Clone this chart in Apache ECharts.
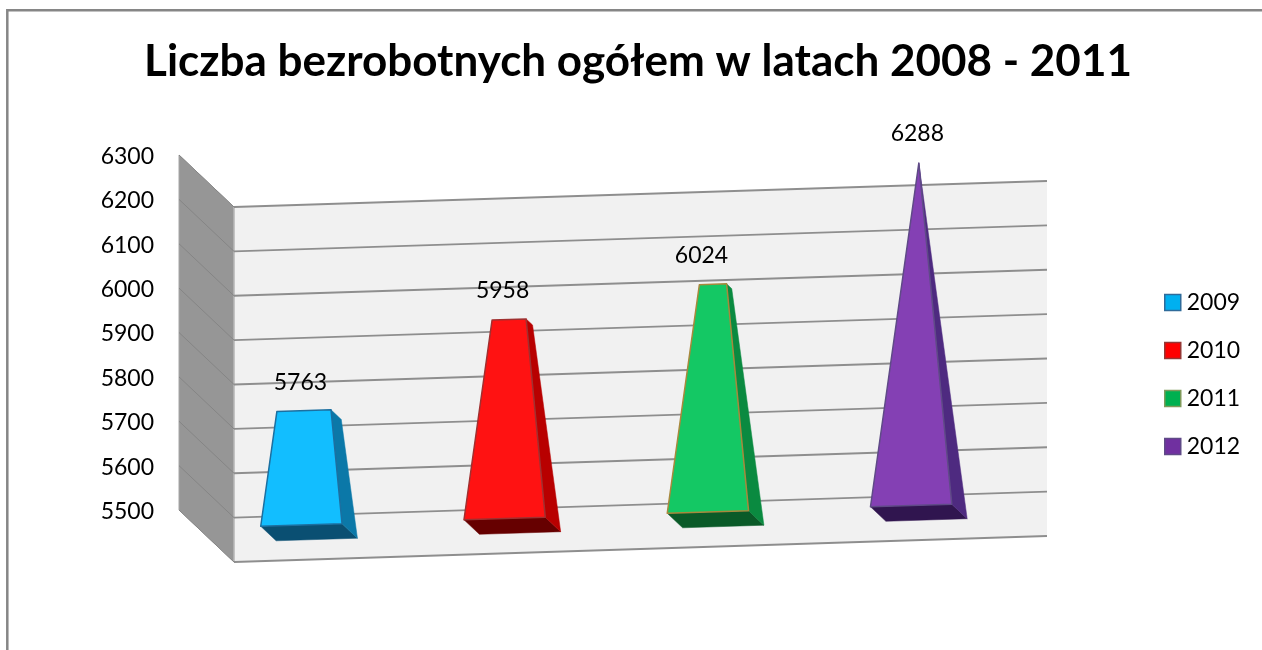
<!DOCTYPE html>
<html>
<head>
<meta charset="utf-8">
<style>
  html, body { margin: 0; padding: 0; background: #fff; }
  #chart { width: 1262px; height: 650px; }
</style>
</head>
<body>
<div id="chart"></div>
<script src="https://cdn.jsdelivr.net/npm/echarts@6/dist/echarts.min.js"></script>
<script>
// dane
const years = ['2009', '2010', '2011', '2012']
const unemployed = [5763, 5958, 6024, 6288]
const tickValues = [5500, 5600, 5700, 5800, 5900, 6000, 6100, 6200, 6300]

// kolory: czolo, bok, podstawa, obrys
const faceColors = ['#12BEFF', '#FF1212', '#14C864', '#8440B4']
const sideColors = ['#0B78A8', '#B80000', '#0A8A40', '#4E2A80']
const baseColors = ['#0A4F72', '#660000', '#0A5A28', '#30154F']
const edgeColors = ['#1C6FA0', '#A03030', '#A8883C', '#5F4A87']
const legendColors = ['#00B0F0', '#FF0000', '#00B050', '#7030A0']
const legendEdges = ['#2F6B9A', '#953735', '#7F9A5B', '#5F4A87']

// rzut "3D": przesuniecie w glab i pochylenie osi X
const DEPTH_X = 55
const DEPTH_Y = 52
const TILT = 26 / 813
const BAR_HALF_W = 0.2
const BAR_T_MID = 0.49
const BAR_T_HALF = 0.14
const BAR_DX = 1.5
const LABEL_DX = [-3.5, -6.5, -11.5, -1.5]
const LABEL_DY = 29

const yMin = tickValues[0]
const yMax = tickValues[tickValues.length - 1]
const peak = Math.max(...unemployed)

const project = (api, params, cat, value, du, t) => {
  const base = api.coord([cat, yMin])
  const top = api.coord([cat, value])
  const x0 = base[0] + du * api.size([1, 0])[0]
  return [
    x0 + DEPTH_X * t + BAR_DX,
    top[1] - (x0 - params.coordSys.x) * TILT + DEPTH_Y * t
  ]
}

const renderBar = (idx) => (params, api) => {
  const value = api.value(1)
  const cat = api.value(0)
  const k = (peak - value) / (peak - yMin)
  const p = (v, du, t) => project(api, params, cat, v, du, t)
  const w = BAR_HALF_W
  const tf = BAR_T_MID - BAR_T_HALF
  const tb = BAR_T_MID + BAR_T_HALF
  const tf2 = BAR_T_MID - BAR_T_HALF * k
  const tb2 = BAR_T_MID + BAR_T_HALF * k
  const bl = p(yMin, -w, tf), br = p(yMin, w, tf)
  const bbl = p(yMin, -w, tb), bbr = p(yMin, w, tb)
  const tl = p(value, -w * k, tf2), tr = p(value, w * k, tf2)
  const tbr = p(value, w * k, tb2)
  const apex = p(value, 0, BAR_T_MID)
  const poly = (points, fill, z2) => ({
    type: 'polygon',
    z2,
    shape: { points },
    style: { fill, stroke: fill, lineWidth: 0.5 }
  })
  return {
    type: 'group',
    children: [
      poly([bl, br, bbr, bbl], baseColors[idx], 1),
      poly([br, bbr, tbr, tr], sideColors[idx], 2),
      {
        type: 'polygon',
        z2: 3,
        shape: { points: [bl, br, tr, tl] },
        style: { fill: faceColors[idx], stroke: edgeColors[idx], lineWidth: 1.5, lineJoin: 'round' }
      },
      {
        type: 'text',
        z2: 4,
        style: {
          x: (tl[0] + tr[0]) / 2 + LABEL_DX[idx],
          y: Math.min(tl[1], apex[1]) - LABEL_DY,
          text: String(value),
          fill: '#000',
          font: '23px Lato',
          align: 'center',
          verticalAlign: 'middle'
        }
      }
    ]
  }
}

// sciany wykresu i linie siatki
const renderWalls = (params, api) => {
  const cs = params.coordSys
  const y = api.coord([0, api.value(1)])[1]
  const backX = cs.x + DEPTH_X
  const backY = y + DEPTH_Y
  const children = []
  if (params.dataIndex === 0) {
    const top = api.coord([0, yMax])[1]
    children.push({
      type: 'polygon',
      z2: 0,
      shape: { points: [[cs.x, top], [backX, top + DEPTH_Y], [backX, backY], [cs.x, y]] },
      style: { fill: '#969696', stroke: '#A6A6A6', lineWidth: 1 }
    })
    children.push({
      type: 'polygon',
      z2: 0,
      shape: {
        points: [
          [backX, top + DEPTH_Y],
          [backX + cs.width, top + DEPTH_Y - cs.width * TILT],
          [backX + cs.width, backY - cs.width * TILT],
          [backX, backY]
        ]
      },
      style: { fill: '#F1F1F1' }
    })
    children.push({
      type: 'line',
      z2: 1,
      shape: { x1: backX, y1: top + DEPTH_Y, x2: backX, y2: backY },
      style: { stroke: '#B5B5B5', lineWidth: 1.5 }
    })
  }
  children.push({
    type: 'line',
    z2: 1,
    shape: { x1: cs.x, y1: y, x2: backX, y2: backY },
    style: { stroke: '#858585', lineWidth: 1 }
  })
  children.push({
    type: 'line',
    z2: 1,
    shape: { x1: backX, y1: backY, x2: backX + cs.width, y2: backY - cs.width * TILT },
    style: { stroke: '#8E8E8E', lineWidth: 2 }
  })
  return { type: 'group', children }
}

const chart = echarts.init(document.getElementById('chart'))

chart.setOption({
  animation: false,
  backgroundColor: '#fff',
  textStyle: { fontFamily: 'Lato' },
  title: {
    text: 'Liczba bezrobotnych ogółem w latach 2008 - 2011',
    left: 633,
    top: 35,
    textAlign: 'center',
    textStyle: { fontFamily: 'Lato', fontSize: 44, fontWeight: 'bold', color: '#000' }
  },
  legend: {
    orient: 'vertical',
    left: 1164,
    top: 291,
    padding: 0,
    icon: 'rect',
    itemWidth: 16,
    itemHeight: 16,
    itemGap: 25,
    selectedMode: false,
    textStyle: { fontFamily: 'Lato', fontSize: 23, color: '#000', padding: [0, 0, 0, 1] },
    data: years.map((y, i) => ({
      name: y,
      itemStyle: { color: legendColors[i], borderColor: legendEdges[i], borderWidth: 1.5 }
    }))
  },
  grid: { left: 179, top: 155, width: 813, height: 355 },
  xAxis: {
    type: 'category',
    data: years,
    axisLine: { show: false },
    axisTick: { show: false },
    axisLabel: { show: false }
  },
  yAxis: {
    type: 'value',
    min: yMin,
    max: yMax,
    interval: 100,
    axisLine: { show: false },
    axisTick: { show: false },
    splitLine: { show: false },
    axisLabel: {
      margin: 25,
      showMinLabel: true,
      showMaxLabel: true,
      formatter: (v) => `{tick|${v}}`,
      rich: {
        tick: { fontFamily: 'Lato', fontSize: 23, color: '#000', padding: [3, 0, 0, 0] }
      }
    }
  },
  graphic: [{
    type: 'rect',
    z: -1,
    shape: { x: 7.3, y: 10.2, width: 1262, height: 650 },
    style: { fill: 'none', stroke: '#868686', lineWidth: 2.5 }
  }],
  series: [
    {
      type: 'custom',
      name: 'siatka',
      z: 1,
      renderItem: renderWalls,
      data: tickValues.map((v) => [0, v]),
      silent: true
    },
    ...years.map((y, i) => ({
      type: 'custom',
      name: y,
      z: 2,
      itemStyle: { color: legendColors[i] },
      renderItem: renderBar(i),
      data: [[i, unemployed[i]]]
    }))
  ]
})
</script>
</body>
</html>
